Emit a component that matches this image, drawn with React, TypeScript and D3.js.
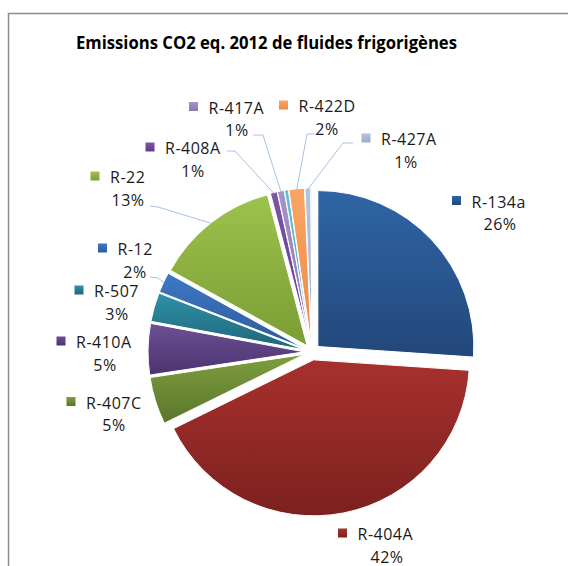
import React from "react";
import * as d3 from "d3";

// ---- data ----
const categories = ["R-134a", "R-404A", "R-407C", "R-410A", "R-507", "R-12", "R-22", "R-408A", "R-417A", "R-413A", "R-422D", "R-427A", "R-437A"];
const values = [26.1, 41.7, 4.9, 5.3, 3.0, 2.1, 12.9, 0.7, 0.7, 0.4, 1.6, 0.6, 0.1];
const showLabel = [true, true, true, true, true, true, true, true, true, false, true, true, false];
const title = "Emissions CO2 eq. 2012  de fluides frigorigènes";

// ---- styles ----
const colorTop = ["#2F65A6", "#A8302D", "#7E9E3F", "#6C4F93", "#2F92A9", "#3E79C4", "#9DC24C", "#7C54A8", "#A693C9", "#62C1D9", "#FBA566", "#B3C4E0", "#D9E4BE"];
const colorBottom = ["#22477A", "#7B211F", "#5A772B", "#4B3470", "#1F6577", "#2C5B9B", "#7A9E34", "#5F3F88", "#8A75B0", "#48A5BD", "#EB8A45", "#98ABCC", "#BFCDA0"];

// label layout: name text left x, first baseline y, percent centre x
const labelLayout: ({ x: number; y: number; px: number } | null)[] = [
  { x: 471.5, y: 207.5, px: 500 },
  { x: 357.5, y: 540, px: 387 },
  { x: 86, y: 408.5, px: 114 },
  { x: 76, y: 348, px: 105 },
  { x: 94, y: 297, px: 117 },
  { x: 117.5, y: 255, px: 135 },
  { x: 110, y: 183, px: 128 },
  { x: 165, y: 154, px: 193 },
  { x: 208.5, y: 113.5, px: 237 },
  null,
  { x: 298.5, y: 112, px: 327 },
  { x: 381, y: 145, px: 406 },
  null,
];
const leaderStarts: Record<number, [number, number][]> = {
  5: [[150, 277], [158, 278]],
  6: [[150, 206], [158, 207]],
  7: [[227, 151], [235, 151]],
  8: [[253, 135], [263, 135]],
  10: [[316, 134], [307, 134]],
  11: [[353, 143], [343, 143]],
};

const W = 568, H = 566;
const cx = 312, cy = 352, R = 156, EXPLODE = 8;
const FONT = "'Open Sans', 'Noto Sans', sans-serif";

export default function App() {
  const total = d3.sum(values);
  const arcs = d3.pie<number>().sort(null).value((d) => d)(values);
  const arcGen = d3.arc<d3.PieArcDatum<number>>().innerRadius(0).outerRadius(R);

  return (
    <div style={{ position: "absolute", left: 0, top: 0 }}>
      <svg width={W} height={H} style={{ display: "block", background: "#fff" }}>
        <defs>
          {values.map((_, i) => (
            <linearGradient key={i} id={`g${i}`} x1="0" y1="0" x2="0" y2="1">
              <stop offset="0" stopColor={colorTop[i]} />
              <stop offset="1" stopColor={colorBottom[i]} />
            </linearGradient>
          ))}
        </defs>
        <rect x={8.5} y={13.5} width={W + 20} height={H + 20} fill="#fff" stroke="#8c8c8c" strokeWidth={1.5} />
        <text x={266.5} y={48.5} textAnchor="middle" fontFamily={FONT} fontWeight="bold" fontSize={17.5}
          textLength={381} lengthAdjust="spacingAndGlyphs" fill="#000">{title}</text>

        <g transform={`translate(${cx},${cy})`}>
          {arcs.map((a, i) => {
            const mid = (a.startAngle + a.endAngle) / 2;
            const dx = EXPLODE * Math.sin(mid), dy = -EXPLODE * Math.cos(mid);
            return (
              <path key={i} d={arcGen(a) || ""} transform={`translate(${dx},${dy})`}
                fill={`url(#g${i})`} stroke="#fff" strokeWidth={1} />
            );
          })}
        </g>

        {arcs.map((a, i) => {
          const st = leaderStarts[i];
          if (!st) return null;
          const mid = (a.startAngle + a.endAngle) / 2;
          const rr = EXPLODE + R - 1;
          const ex = cx + rr * Math.sin(mid), ey = cy - rr * Math.cos(mid);
          const pts = [...st, [ex, ey]] as [number, number][];
          return <path key={`l${i}`} d={d3.line()(pts) || ""} fill="none" stroke="#A9C1E6" strokeWidth={1} />;
        })}

        {categories.map((c, i) => {
          const L = labelLayout[i];
          if (!showLabel[i] || !L) return null;
          const pct = Math.round((values[i] / total) * 100) + "%";
          return (
            <g key={`t${i}`} fontFamily={FONT} fontSize={16} fill="#1a1a1a">
              <rect x={L.x - 19.5} y={L.y - 11.5} width={9} height={9} fill={`url(#g${i})`} />
              <text x={L.x} y={L.y} letterSpacing={0.5}>{c}</text>
              <text x={L.px} y={L.y + 22.5} textAnchor="middle" letterSpacing={0.5}>{pct}</text>
            </g>
          );
        })}
      </svg>
    </div>
  );
}
